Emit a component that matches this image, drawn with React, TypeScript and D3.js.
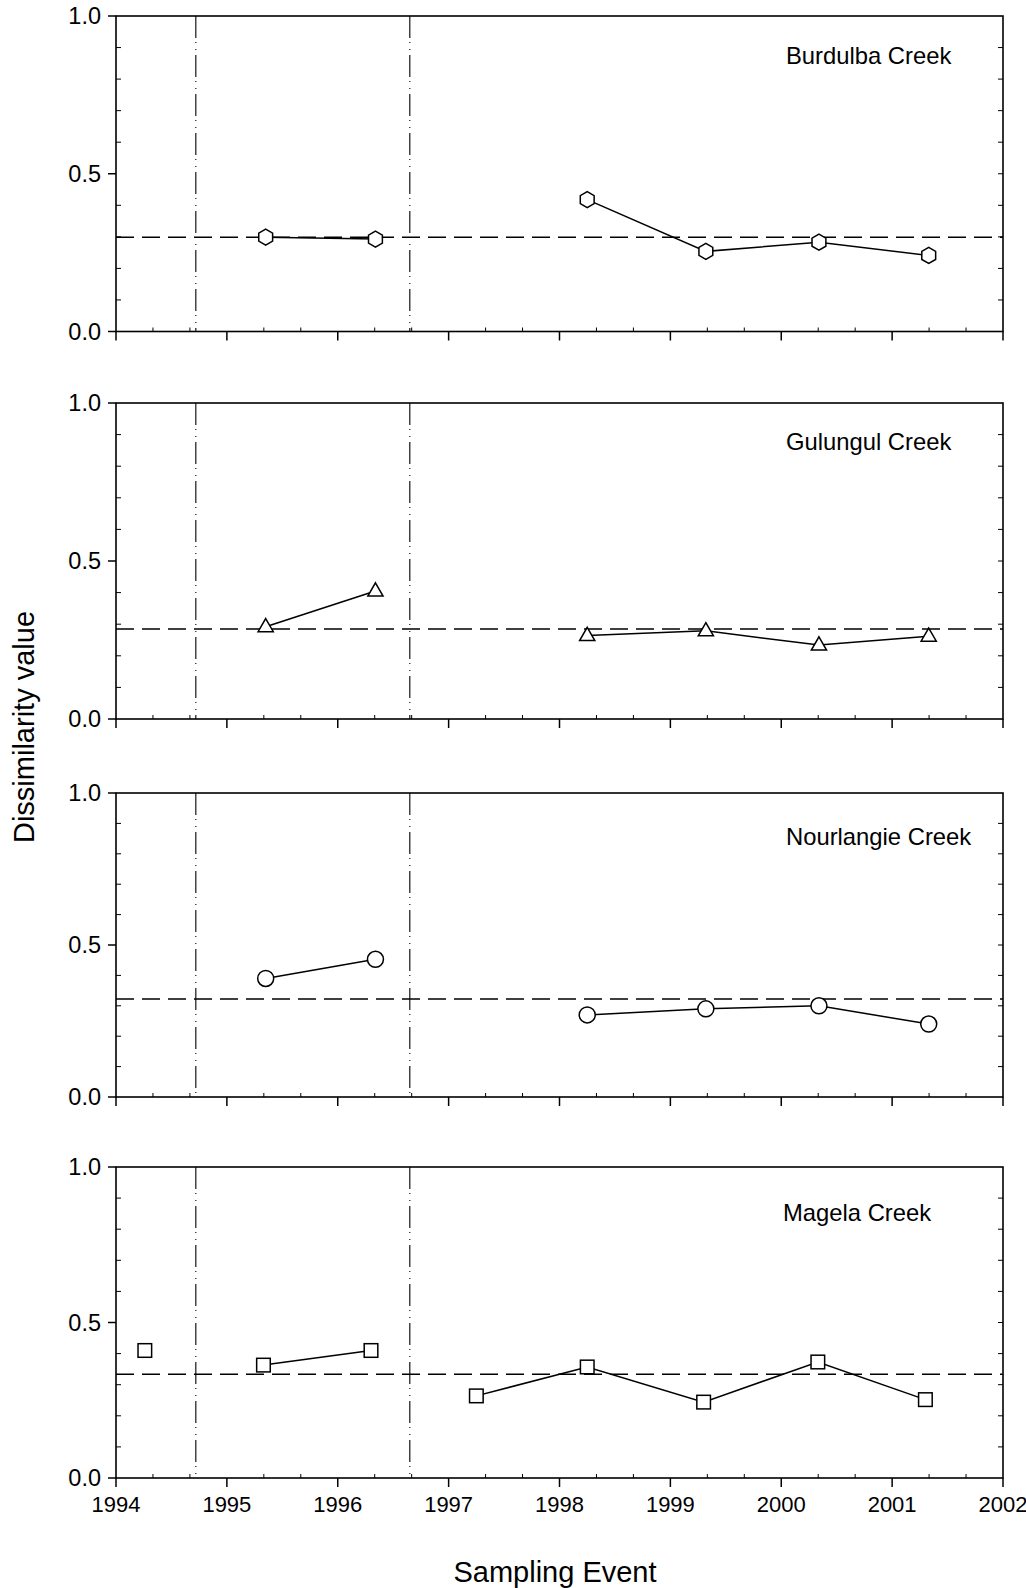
import React from "react";
import * as d3 from "d3";

// ---- data ----
const creeks = ["Burdulba Creek", "Gulungul Creek", "Nourlangie Creek", "Magela Creek"];
const markerTypes = ["hexagon", "triangle", "circle", "square"];

// sampling times (decimal years) and dissimilarity values, grouped in connected segments
const burdulbaSegments = [
  [[1995.35, 0.299], [1996.34, 0.293]],
  [[1998.25, 0.418], [1999.32, 0.254], [2000.34, 0.283], [2001.33, 0.241]],
];
const gulungulSegments = [
  [[1995.35, 0.292], [1996.34, 0.405]],
  [[1998.25, 0.264], [1999.32, 0.279], [2000.34, 0.234], [2001.33, 0.262]],
];
const nourlangieSegments = [
  [[1995.35, 0.39], [1996.34, 0.453]],
  [[1998.25, 0.27], [1999.32, 0.29], [2000.34, 0.30], [2001.33, 0.24]],
];
const magelaSegments = [
  [[1994.26, 0.41]],
  [[1995.33, 0.363], [1996.3, 0.41]],
  [[1997.25, 0.264], [1998.25, 0.357], [1999.3, 0.244], [2000.33, 0.373], [2001.3, 0.252]],
];
const segmentsByCreek = [burdulbaSegments, gulungulSegments, nourlangieSegments, magelaSegments];
const meanValues = [0.299, 0.285, 0.322, 0.334];
const eventLines = [1994.72, 1996.65];
const xTicks = [1994, 1995, 1996, 1997, 1998, 1999, 2000, 2001, 2002];
const yMajorTicks = [0, 0.5, 1.0];

// ---- layout ----
const W = 1026;
const H = 1588;
const X0 = 116;
const X1 = 1003;
const panelTops = [16, 403, 793, 1167];
const panelBottoms = [331.5, 719, 1097, 1478];
const FONT = "'Liberation Sans', Arial, Helvetica, sans-serif";

const x = d3.scaleLinear().domain([1994, 2002]).range([X0, X1]);

function Marker({ type, cx, cy }: { type: string; cx: number; cy: number }) {
  const st = { fill: "white", stroke: "black", strokeWidth: 1.5 };
  if (type === "hexagon") {
    const r = 8;
    const pts = d3.range(6).map((i) => {
      const a = (Math.PI / 3) * i - Math.PI / 2;
      return [cx + r * Math.cos(a), cy + r * Math.sin(a)];
    });
    return <polygon points={pts.map((p) => p.join(",")).join(" ")} {...st} />;
  }
  if (type === "triangle") {
    const pts = [
      [cx, cy - 8.2],
      [cx + 7.6, cy + 5],
      [cx - 7.6, cy + 5],
    ];
    return <polygon points={pts.map((p) => p.join(",")).join(" ")} {...st} />;
  }
  if (type === "circle") {
    return <circle cx={cx} cy={cy} r={8} {...st} />;
  }
  return <rect x={cx - 6.8} y={cy - 6.8} width={13.6} height={13.6} {...st} />;
}

function Panel({ idx }: { idx: number }) {
  const top = panelTops[idx];
  const bottom = panelBottoms[idx];
  const y = d3.scaleLinear().domain([0, 1]).range([bottom, top]);
  const segs = segmentsByCreek[idx];
  const line = d3
    .line<number[]>()
    .x((d) => x(d[0]))
    .y((d) => y(d[1]));
  const minorY = d3.range(1, 10).map((i) => i / 10).filter((v) => Math.abs(v - 0.5) > 1e-6);
  const minorX: number[] = [];
  for (let yr = 1994; yr < 2002; yr++) {
    minorX.push(yr + 1 / 3, yr + 2 / 3);
  }
  const labelX = idx === 3 ? 783 : 786;
  const labelY = [64, 450, 845, 1221][idx];
  return (
    <g>
      {/* event lines */}
      {eventLines.map((e, i) => (
        <line
          key={"ev" + i}
          x1={x(e)}
          x2={x(e)}
          y1={top}
          y2={bottom}
          stroke="#000"
          strokeWidth={1.1}
          strokeDasharray="22,4,1,6,1,5"
        />
      ))}
      {/* mean line */}
      <line
        x1={X0}
        x2={X1}
        y1={y(meanValues[idx])}
        y2={y(meanValues[idx])}
        stroke="black"
        strokeWidth={1.5}
        strokeDasharray="18,8"
      />
      {/* frame */}
      <rect x={X0} y={top} width={X1 - X0} height={bottom - top} fill="none" stroke="black" strokeWidth={1.6} />
      {/* y ticks */}
      {yMajorTicks.map((v) => (
        <g key={"ym" + v}>
          <line x1={X0 - 8} x2={X0} y1={y(v)} y2={y(v)} stroke="black" strokeWidth={1.5} />
          <text
            x={101}
            y={y(v)}
            dy="0.36em"
            textAnchor="end"
            fontFamily={FONT}
            fontSize={23.5}
          >
            {v.toFixed(1)}
          </text>
        </g>
      ))}
      {minorY.map((v) => (
        <g key={"yn" + v}>
          <line x1={X0} x2={X0 + 5} y1={y(v)} y2={y(v)} stroke="black" strokeWidth={1} />
          <line x1={X1 - 5} x2={X1} y1={y(v)} y2={y(v)} stroke="black" strokeWidth={1} />
        </g>
      ))}
      <line x1={X1 - 5} x2={X1} y1={y(0.5)} y2={y(0.5)} stroke="black" strokeWidth={1} />
      {/* x ticks */}
      {xTicks.map((t) => (
        <line key={"xm" + t} x1={x(t)} x2={x(t)} y1={bottom} y2={bottom + 9} stroke="black" strokeWidth={1.5} />
      ))}
      {minorX.map((t) => (
        <line key={"xn" + t} x1={x(t)} x2={x(t)} y1={bottom - 4} y2={bottom} stroke="black" strokeWidth={1} />
      ))}
      {idx === 3 &&
        xTicks.map((t) => (
          <text
            key={"xl" + t}
            x={x(t)}
            y={bottom + 34}
            textAnchor="middle"
            fontFamily={FONT}
            fontSize={22}
          >
            {t}
          </text>
        ))}
      {/* data lines */}
      {segs.map((s, i) =>
        s.length > 1 ? (
          <path key={"l" + i} d={line(s as number[][]) || ""} fill="none" stroke="black" strokeWidth={1.5} />
        ) : null
      )}
      {segs.map((s, i) =>
        s.map((p, j) => <Marker key={"m" + i + "_" + j} type={markerTypes[idx]} cx={x(p[0])} cy={y(p[1])} />)
      )}
      <text x={labelX} y={labelY} fontFamily={FONT} fontSize={23.8}>
        {creeks[idx]}
      </text>
    </g>
  );
}

export default function App() {
  return (
    <svg
      width={W}
      height={H}
      viewBox={`0 0 ${W} ${H}`}
      style={{ position: "absolute", left: 0, top: 0, background: "white" }}
    >
      <rect x={0} y={0} width={W} height={H} fill="white" />
      {creeks.map((c, i) => (
        <Panel key={c} idx={i} />
      ))}
      <text x={555} y={1582} textAnchor="middle" fontFamily={FONT} fontSize={29}>
        Sampling Event
      </text>
      <text
        transform={`translate(34,727) rotate(-90)`}
        textAnchor="middle"
        fontFamily={FONT}
        fontSize={29}
      >
        Dissimilarity value
      </text>
    </svg>
  );
}
